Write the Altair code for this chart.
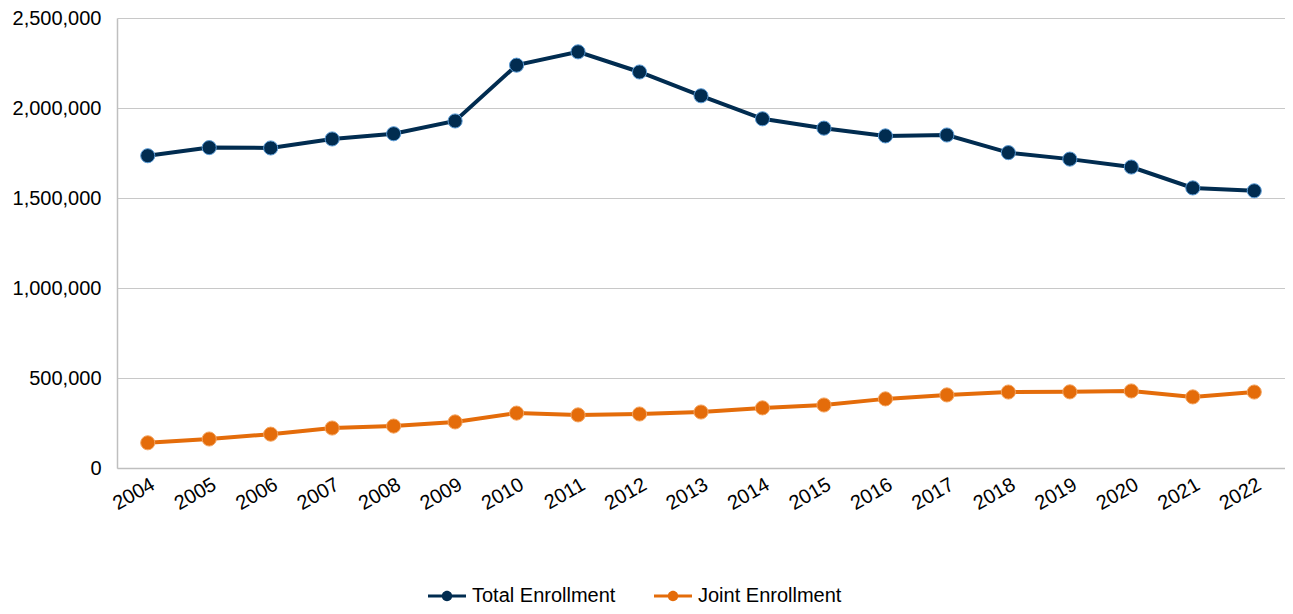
import altair as alt
import pandas as pd

years = [str(y) for y in range(2004, 2023)]
total = [1735000, 1780000, 1778000, 1828000, 1857000, 1928000, 2238000, 2312000, 2200000,
         2068000, 1940000, 1888000, 1845000, 1850000, 1752000, 1716000, 1672000, 1556000, 1540000]
joint = [140000, 161000, 188000, 222000, 233000, 256000, 305000, 295000, 300000,
         311000, 334000, 350000, 384000, 406000, 422000, 423000, 428000, 395000, 422000]
series = ["Total Enrollment", "Joint Enrollment"]
colors = ["#012C50", "#E46C0A"]
strokes = ["#5B9BD5", "#F4A460"]

rows = []
for i, y in enumerate(years):
    rows.append({"year": y, "series": series[0], "value": total[i]})
    rows.append({"year": y, "series": series[1], "value": joint[i]})
df = pd.DataFrame(rows)

FONT = "Liberation Sans"
FS = 20
sym = "M-2,-0.17H2V0.17H-2Z M0.55,0 A0.55,0.55 0 1,1 -0.55,0 A0.55,0.55 0 1,1 0.55,0Z"

x = alt.X("year:N", title=None, sort=years,
          scale=alt.Scale(paddingInner=0, paddingOuter=0.5),
          axis=alt.Axis(labelAngle=-30, labelAlign="right", labelBaseline="top",
                        labelFontSize=FS, labelFont=FONT, labelColor="#000000",
                        ticks=False, domainColor="#BFBFBF", domainWidth=1.5,
                        labelPadding=6, grid=False))
y = alt.Y("value:Q", title=None,
          scale=alt.Scale(domain=[0, 2500000], nice=False),
          axis=alt.Axis(values=[0, 500000, 1000000, 1500000, 2000000, 2500000],
                        format=",d", labelFontSize=FS, labelFont=FONT, labelColor="#000000",
                        ticks=False, domainColor="#BFBFBF", domainWidth=1.5,
                        gridColor="#C8C8C8", gridWidth=1, labelPadding=16))
color = alt.Color("series:N", sort=series, title=None,
                  scale=alt.Scale(domain=series, range=colors),
                  legend=alt.Legend(orient="none", direction="horizontal",
                                    legendX=320, legendY=568,
                                    symbolType=sym, symbolSize=361, symbolStrokeWidth=0,
                                    labelFontSize=FS, labelFont=FONT, labelColor="#000000",
                                    labelOffset=15, columnPadding=38))

base = alt.Chart(df)
line = base.mark_line(strokeWidth=4).encode(x=x, y=y, color=color)
pts = base.mark_point(filled=True, size=200, opacity=1, strokeWidth=1).encode(
    x=x, y=y, color=color,
    stroke=alt.Stroke("series:N", scale=alt.Scale(domain=series, range=strokes), legend=None))

chart = alt.layer(line, pts).properties(
    width=1168, height=450,
    autosize=alt.AutoSizeParams(type="none"),
    padding={"left": 109, "top": 10, "right": 0, "bottom": 137},
    background="white",
).configure_view(stroke=None)

chart.save("out.html", embed_options={"renderer": "svg", "actions": False})
